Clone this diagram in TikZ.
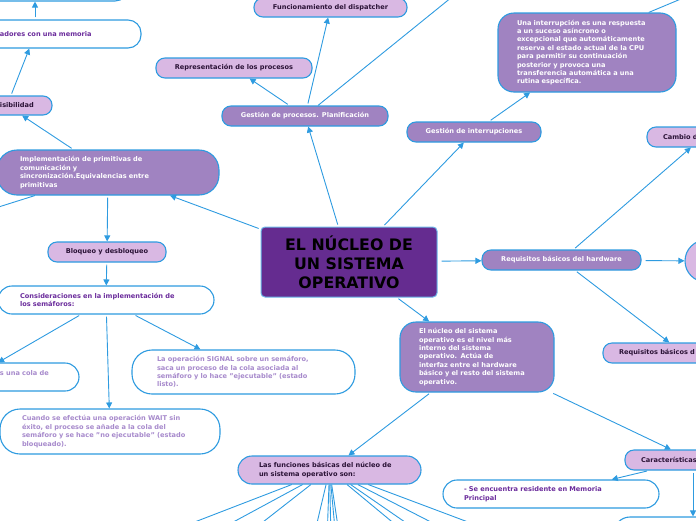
\documentclass[tikz,border=0pt]{standalone}
\usepackage{fontspec}
\setmainfont{DejaVu Sans}
\usetikzlibrary{arrows.meta,calc}
\definecolor{lineblue}{HTML}{2E9BE0}
\definecolor{darkfill}{HTML}{A083C1}
\definecolor{lightfill}{HTML}{D9B8E3}
\definecolor{centralfill}{HTML}{652C90}
\definecolor{txtdark}{HTML}{6B2C9C}
\definecolor{txtlight}{HTML}{A78ACC}
\definecolor{nodetext}{HTML}{2A1236}
\tikzset{
  box/.style={draw=lineblue, line width=1.1pt, inner sep=0pt, font=\fontsize{6.6}{8.4}\selectfont\bfseries},
  darkbox/.style={box, fill=darkfill, text=white},
  lightbox/.style={box, fill=lightfill, text=nodetext},
  whitebox/.style={box, fill=white},
  conn/.style={draw=lineblue, line width=0.9pt, shorten <=2pt, -{Triangle[length=6pt,width=6pt]}},
  plainline/.style={draw=lineblue, line width=0.9pt},
}
\begin{document}
\begin{tikzpicture}[x=1pt,y=-1pt]
\useasboundingbox (0,0) rectangle (696,520);
\clip (0,0) rectangle (696,520);

% central
\node[draw=lineblue!70, line width=1pt, fill=centralfill, rounded corners=4pt, minimum width=176pt, minimum height=70pt, inner sep=0pt, align=center, text=black, font=\fontsize{15.8}{19}\selectfont\bfseries] (central) at (349,262) {EL NÚCLEO DE\\UN SISTEMA\\OPERATIVO};

% top-left branch
\node[whitebox, rounded corners=13pt, minimum width=186pt, minimum height=31pt] (topbox) at (35,-14.5) {};
\node[whitebox, text=txtdark, rounded corners=13pt, minimum width=212pt, minimum height=28pt, text width=212pt, align=left] (mem) at (35,34) {\hspace*{71pt}adores con una memoria};
\node[lightbox, rounded corners=9pt, minimum width=90pt, minimum height=19pt, text width=90pt, align=left] (visib) at (7,105.5) {\hspace*{38pt}isibilidad};
\node[darkbox, rounded corners=20pt, minimum width=222pt, minimum height=45pt, text width=176pt, align=left] (impl) at (108,172.5) {Implementación de primitivas de\\comunicación y\\sincronización.Equivalencias entre\\primitivas};
\node[lightbox, rounded corners=9pt, minimum width=118pt, minimum height=20pt] (bloqueo) at (107,252) {Bloqueo y desbloqueo};
\node[whitebox, text=txtdark, rounded corners=14pt, minimum width=216pt, minimum height=28pt, text width=172pt, align=left] (consid) at (106,300) {Consideraciones en la implementación de\\los semáforos:};
\node[whitebox, text=txtlight, rounded corners=14pt, minimum width=212pt, minimum height=28pt, text width=212pt, align=left] (cola) at (-27,377) {\hspace*{133pt}s una cola de\\\mbox{}};
\node[whitebox, text=txtlight, rounded corners=20pt, minimum width=223pt, minimum height=44pt, text width=173pt, align=left] (signal) at (243.5,372) {La operación SIGNAL sobre un semáforo,\\saca un proceso de la cola asociada al\\semáforo y lo hace "ejecutable" (estado\\listo).};
\node[whitebox, text=txtlight, rounded corners=20pt, minimum width=220pt, minimum height=45pt, text width=176pt, align=left] (cuando) at (110,431.5) {Cuando se efectúa una operación WAIT sin\\éxito, el proceso se añade a la cola del\\semáforo y se hace "no ejecutable" (estado\\bloqueado).};

% top branch
\node[darkbox, rounded corners=9pt, minimum width=166pt, minimum height=20pt] (gproc) at (305,116) {Gestión de procesos. Planificación};
\node[lightbox, rounded corners=9pt, minimum width=156pt, minimum height=20pt] (repr) at (234,68) {Representación de los procesos};
\node[lightbox, rounded corners=9pt, minimum width=153pt, minimum height=19pt] (func) at (330.5,7.5) {Funcionamiento del dispatcher};
\node[darkbox, rounded corners=9pt, minimum width=134pt, minimum height=20pt] (gint) at (474,132) {Gestión de interrupciones};
\node[darkbox, rounded corners=16pt, minimum width=178pt, minimum height=79pt, text width=140pt, align=left] (una) at (587,52.5) {Una interrupción es una respuesta\\a un suceso asíncrono o\\excepcional que automáticamente\\reserva el estado actual de la CPU\\para permitir su continuación\\posterior y provoca una\\transferencia automática a una\\rutina específica.};

% right branch
\node[darkbox, rounded corners=9pt, minimum width=159pt, minimum height=20pt] (reqhw) at (561.5,260) {Requisitos básicos del hardware};
\node[lightbox, rounded corners=9pt, minimum width=112pt, minimum height=20pt, text width=112pt, align=left] (cambio) at (703,137) {\hspace*{16pt}Cambio d};
\node[lightbox, circle, minimum size=42pt] (circ) at (706,261) {};
\node[lightbox, rounded corners=9pt, minimum width=160pt, minimum height=20pt, text width=160pt, align=left] (reqbd) at (683,353) {\hspace*{16pt}Requisitos básicos d};

% bottom branch
\node[darkbox, rounded corners=16pt, minimum width=154pt, minimum height=70pt, text width=116pt, align=left] (nucleo) at (477,357) {El núcleo del sistema\\operativo es el nivel más\\interno del sistema\\operativo. Actúa de\\interfaz entre el hardware\\básico y el resto del sistema\\operativo.};
\node[lightbox, rounded corners=9pt, minimum width=136pt, minimum height=20pt, text width=136pt, align=left] (carac) at (693,460) {\hspace*{16pt}Características};
\node[whitebox, text=txtdark, rounded corners=14pt, minimum width=216pt, minimum height=28pt, text width=174pt, align=left] (se) at (551,494) {- Se encuentra residente en Memoria\\Principal};
\node[whitebox, rounded corners=16pt, minimum width=158pt, minimum height=46pt] (brbox) at (693,540) {};
\node[lightbox, rounded corners=14pt, minimum width=183pt, minimum height=28pt, text width=141pt, align=left] (funciones) at (329.5,470) {Las funciones básicas del núcleo de\\un sistema operativo son:};

% off-picture ends
\coordinate (offL) at (-30,216);
\coordinate (offTR) at (473,-20);
\coordinate (offU) at (700,-9);
\coordinate (f1) at (148,540);
\coordinate (f2) at (200,540);
\coordinate (f3) at (240,540);
\coordinate (f4) at (313,540);
\coordinate (f5) at (327,540);
\coordinate (f6) at (331,540);
\coordinate (f7) at (336,540);
\coordinate (f8) at (340,540);
\coordinate (f9) at (414,540);
\coordinate (f10) at (431,540);
\coordinate (f11) at (466,540);
\coordinate (f12) at (516,540);

% connectors
\draw[conn] (central) -- (gproc);
\draw[conn] (central) -- (gint);
\draw[conn, shorten <=4pt] (central) -- (reqhw);
\draw[conn] (central) -- (nucleo);
\draw[conn] (central) -- (impl);
\draw[conn] (gproc) -- (repr);
\draw[conn] (gproc) -- (func);
\draw[plainline] (gproc) -- (offTR);
\draw[conn] (gint) -- (una);
\draw[plainline] (una.33) -- (offU);
\draw[conn] (reqhw) -- (cambio);
\draw[conn, shorten <=4pt] (reqhw) -- (circ);
\draw[conn] (reqhw) -- (reqbd);
\draw[conn] (nucleo) -- (funciones);
\draw[conn] (nucleo) -- (carac);
\draw[conn] (carac) -- (se);
\draw[conn] (carac) -- (brbox);
\foreach \c in {f1,f2,f3,f4,f5,f6,f7,f8,f9,f10,f11,f12} \draw[plainline] (funciones) -- (\c);
\draw[conn] (impl) -- (visib);
\draw[plainline] (impl) -- (offL);
\draw[conn] (impl) -- (bloqueo);
\draw[conn] (visib) -- (mem);
\draw[conn] (mem) -- (topbox);
\draw[conn] (bloqueo) -- (consid);
\draw[conn] (consid) -- (cola);
\draw[conn] (consid) -- (cuando);
\draw[conn] (consid) -- (signal);
\end{tikzpicture}
\end{document}
